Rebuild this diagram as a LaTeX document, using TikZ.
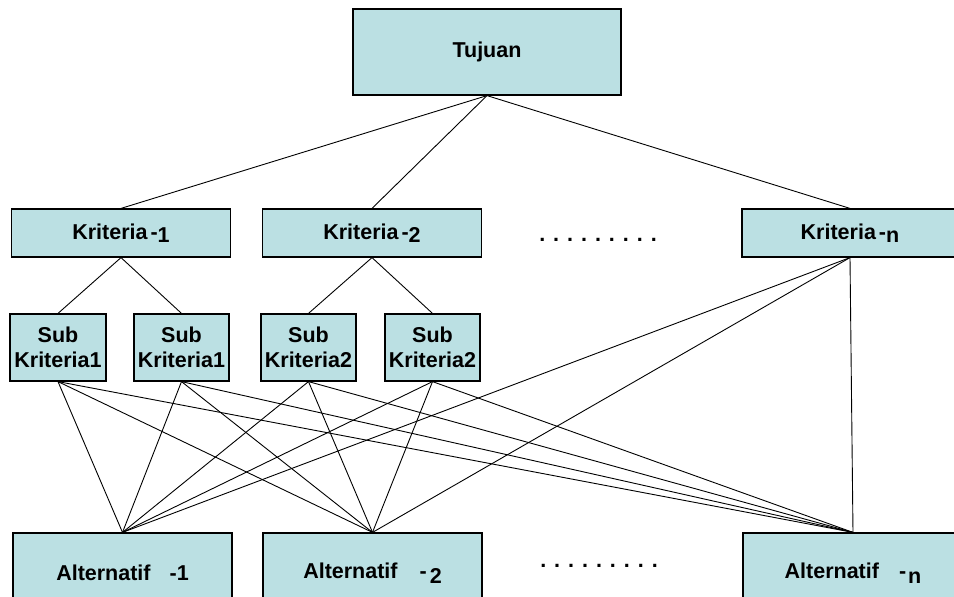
\documentclass[tikz,border=0pt]{standalone}
\usepackage{fontspec}
\setmainfont{Liberation Sans}
\definecolor{biru}{RGB}{187,224,227}
\begin{document}
\begin{tikzpicture}[x=1pt,y=-1pt,
	kotak/.style={draw,line width=1.2pt,fill=biru,inner sep=0pt,align=center,font=\fontsize{21.5}{25}\selectfont\bfseries},
	garis/.style={line width=0.9pt}]
	\useasboundingbox (0,0) rectangle (954,597);
	\clip (0,0) rectangle (954,597);
	\node[kotak,minimum width=268pt,minimum height=86pt] (tujuan) at (487,52) {Tujuan};
	\node[kotak,minimum width=219pt,minimum height=48pt] (k1) at (121,233) {Kriteria\hspace{3pt}-\raisebox{-3pt}{1}};
	\node[kotak,minimum width=219pt,minimum height=48pt] (k2) at (372,233) {Kriteria\hspace{3pt}-\raisebox{-3pt}{2}};
	\node[kotak,minimum width=216pt,minimum height=48pt] (kn) at (850,233) {Kriteria\hspace{3pt}-\raisebox{-3pt}{n}};
	\node[kotak,minimum width=96pt,minimum height=67pt] (s1a) at (58,347.5) {Sub\\Kriteria1};
	\node[kotak,minimum width=95pt,minimum height=67pt] (s1b) at (181.5,347.5) {Sub\\Kriteria1};
	\node[kotak,minimum width=95pt,minimum height=67pt] (s2a) at (308.5,347.5) {Sub\\Kriteria2};
	\node[kotak,minimum width=95pt,minimum height=67pt] (s2b) at (432.5,347.5) {Sub\\Kriteria2};
	\node[kotak,minimum width=219pt,minimum height=80pt] (a1) at (122.5,573) {Alternatif\hspace{19pt}-1};
	\node[kotak,minimum width=219pt,minimum height=80pt] (a2) at (372.5,573) {Alternatif\hspace{22pt}-\hspace{3pt}\raisebox{-5pt}{2}};
	\node[kotak,minimum width=220pt,minimum height=80pt] (an) at (853,573) {Alternatif\hspace{20pt}-\hspace{2pt}\raisebox{-5pt}{n}};
	\node[anchor=base,font=\fontsize{21.5}{25}\selectfont\bfseries] (titik1) at (598,241) {. . . . . . . . .};
	\node[anchor=base,font=\fontsize{21.5}{25}\selectfont\bfseries] (titik2) at (599,567) {. . . . . . . . .};
	\draw[garis] (tujuan.south) -- (k1.north);
	\draw[garis] (tujuan.south) -- (k2.north);
	\draw[garis] (tujuan.south) -- (kn.north);
	\draw[garis] (k1.south) -- (s1a.north);
	\draw[garis] (k1.south) -- (s1b.north);
	\draw[garis] (k2.south) -- (s2a.north);
	\draw[garis] (k2.south) -- (s2b.north);
	\foreach \s in {s1a,s1b,s2a,s2b,kn}
		\foreach \a in {a1,a2,an}
			\draw[garis] (\s.south) -- (\a.north);
\end{tikzpicture}
\end{document}
